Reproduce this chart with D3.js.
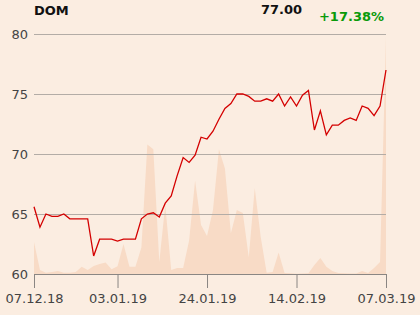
<!DOCTYPE html>
<html>
<head>
<meta charset="utf-8">
<script src="https://cdn.jsdelivr.net/npm/d3@7"></script>
<style>
  body { margin: 0; background: #fbede1; }
  svg { display: block; font-family: "DejaVu Sans", sans-serif; }
</style>
</head>
<body>
<div id="chart"></div>
<script>
const symbol = "DOM";
const lastPrice = "77.00";
const change = "+17.38%";

// one entry per trading day, 07.12.18 .. 07.03.19
const prices = [
  65.6, 63.9, 65.0, 64.8, 64.8, 65.0, 64.6, 64.6, 64.6, 64.6,
  61.5, 62.9, 62.9, 62.9, 62.75, 62.9, 62.9, 62.9, 64.6, 65.0,
  65.1, 64.75, 65.9, 66.5, 68.2, 69.7, 69.3, 69.9, 71.4, 71.25,
  71.9, 72.9, 73.8, 74.2, 75.0, 75.0, 74.8, 74.4, 74.4, 74.6,
  74.4, 75.0, 74.0, 74.75, 74.0, 74.9, 75.3, 72.0, 73.6, 71.6,
  72.4, 72.4, 72.8, 73.0, 72.8, 74.0, 73.8, 73.2, 74.0, 77.0
];

const volumes = [
  13.3, 1.7, 0.5, 0.8, 1.2, 0.5, 0.5, 0.8, 3.0, 1.7,
  3.3, 4.2, 4.8, 2.0, 3.2, 12.5, 3.0, 3.0, 11.0, 54.0,
  52.0, 5.0, 28.7, 1.7, 2.5, 2.5, 14.0, 39.0, 20.4, 15.8,
  26.7, 52.0, 44.0, 17.0, 26.7, 25.4, 7.0, 35.8, 15.4, 0.5,
  0.8, 9.0, 0.4, 0.3, 0.1, 0.2, 0.3, 3.8, 6.7, 3.0,
  1.2, 0.4, 0.3, 0.2, 0.2, 1.3, 0.4, 2.5, 5.0, 99.0
];

const yTicks = [60, 65, 70, 75, 80];
const xTickIdx = [0, 14, 29, 44, 59];
const xTickLabels = ["07.12.18", "03.01.19", "24.01.19", "14.02.19", "07.03.19"];

const W = 420, H = 315;
const margin = {top: 34, right: 34, bottom: 41, left: 34};
const width = W - margin.left - margin.right;
const height = H - margin.top - margin.bottom;

const svg = d3.select("#chart").append("svg")
  .attr("width", W)
  .attr("height", H);

svg.append("rect").attr("width", W).attr("height", H).attr("fill", "#fbede1");

const g = svg.append("g")
  .attr("transform", "translate(" + margin.left + "," + margin.top + ")");

const x = d3.scaleLinear().domain([0, prices.length - 1]).range([0, width]);
const y = d3.scaleLinear().domain([60, 80]).range([height, 0]);
const yVol = d3.scaleLinear().domain([0, 100]).range([height, 0]);

// volume area behind everything
g.append("path")
  .datum(volumes)
  .attr("fill", "#f8dbc6")
  .attr("d", d3.area()
    .x((d, i) => x(i))
    .y0(height)
    .y1(d => yVol(d)));

// horizontal grid
g.append("g")
  .attr("class", "grid")
  .call(d3.axisLeft(y).tickValues(yTicks).tickSize(-width).tickFormat(""))
  .call(s => s.select(".domain").remove())
  .call(s => s.selectAll("line").attr("stroke", "#b3aca6").attr("stroke-width", 1));

// y labels
g.append("g")
  .call(d3.axisLeft(y).tickValues(yTicks).tickSize(0).tickPadding(6))
  .call(s => s.select(".domain").remove())
  .call(s => s.selectAll("text")
    .attr("fill", "#444")
    .style("font-size", "13px")
    .style("font-family", "DejaVu Sans, sans-serif"));

// x axis
g.append("g")
  .attr("transform", "translate(0," + height + ")")
  .call(d3.axisBottom(x).tickValues(xTickIdx)
    .tickFormat((d, i) => xTickLabels[i])
    .tickSize(14).tickPadding(6).tickSizeOuter(0))
  .call(s => s.select(".domain").attr("stroke", "#8a8683"))
  .call(s => s.selectAll("line").attr("stroke", "#8a8683"))
  .call(s => s.selectAll("text")
    .attr("fill", "#444")
    .style("font-size", "13px")
    .style("font-family", "DejaVu Sans, sans-serif"));

// price line
g.append("path")
  .datum(prices)
  .attr("fill", "none")
  .attr("stroke", "#d40000")
  .attr("stroke-width", 1.3)
  .attr("stroke-linejoin", "miter")
  .attr("d", d3.line().x((d, i) => x(i)).y(d => y(d)));

// header
svg.append("text")
  .attr("x", 34).attr("y", 15)
  .attr("font-size", "13px").attr("font-weight", "bold")
  .attr("fill", "#111")
  .text(symbol);

svg.append("text")
  .attr("x", 302).attr("y", 14)
  .attr("text-anchor", "end")
  .attr("font-size", "13px").attr("font-weight", "bold")
  .attr("fill", "#111")
  .text(lastPrice);

svg.append("text")
  .attr("x", 384).attr("y", 21)
  .attr("text-anchor", "end")
  .attr("font-size", "13px").attr("font-weight", "bold")
  .attr("fill", "#0a9a0a")
  .text(change);
</script>
</body>
</html>
